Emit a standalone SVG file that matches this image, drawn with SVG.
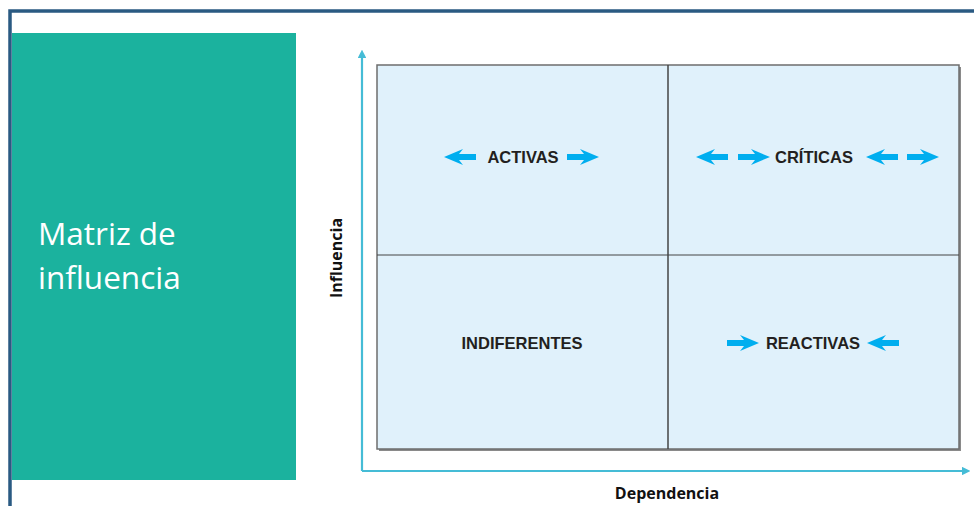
<svg xmlns="http://www.w3.org/2000/svg" width="974" height="506" viewBox="0 0 974 506">
<defs>
<style>
.lbl{font-family:"Liberation Sans",Arial,sans-serif;font-weight:bold;font-size:16.5px;fill:#231f20;text-anchor:middle}
.ax{font-family:"Open Sans","Liberation Sans",sans-serif;font-weight:bold;font-size:16px;fill:#111}
.ttl{font-family:"Open Sans","Liberation Sans",sans-serif;font-size:31.5px;fill:#ffffff}
.axis{stroke:#45bcd6;stroke-width:2.2;fill:none}
.blk{fill:#00aeef}
</style>
<path id="ar" d="M0,-3 H17 L13,-8 L32,0 L13,8 L17,3 H0 Z"/>
<marker id="ah" viewBox="0 0 10 10" refX="5" refY="5" markerWidth="4" markerHeight="4" orient="auto-start-reverse">
<path d="M0,0 L10,5 L0,10 Z" fill="#45bcd6"/>
</marker>
</defs>
<rect width="974" height="506" fill="#ffffff"/>
<g id="frame">
<path d="M10,506 V11 H974" fill="none" stroke="#2a5a82" stroke-width="3.5"/>
</g>
<g id="title">
<rect x="12" y="33" width="284" height="447" fill="#1bb29e"/>
<text class="ttl" x="38" y="245">Matriz de</text>
<text class="ttl" x="38" y="289">influencia</text>
</g>
<g id="connectors">
<path class="axis" d="M362,471 V54" marker-end="url(#ah)"/>
<path class="axis" d="M362,471 H966" marker-end="url(#ah)"/>
</g>
<g id="matrix">
<rect x="379" y="67" width="582" height="384" fill="#8a8a8a"/>
<rect x="377" y="65" width="582" height="384" fill="#e0f1fb" stroke="#6d6d6d" stroke-width="1.5"/>
<line x1="668" y1="65" x2="668" y2="449" stroke="#444" stroke-width="1.5"/>
<line x1="377" y1="255" x2="959" y2="255" stroke="#444" stroke-width="1"/>
</g>
<g id="activas">
<use href="#ar" class="blk" transform="translate(476,157) scale(-1,1)"/>
<text class="lbl" x="523" y="163">ACTIVAS</text>
<use href="#ar" class="blk" transform="translate(567,157)"/>
</g>
<g id="criticas">
<use href="#ar" class="blk" transform="translate(728,157) scale(-1,1)"/>
<use href="#ar" class="blk" transform="translate(738,157)"/>
<text class="lbl" x="814" y="163">CRÍTICAS</text>
<use href="#ar" class="blk" transform="translate(898,157) scale(-1,1)"/>
<use href="#ar" class="blk" transform="translate(907,157)"/>
</g>
<g id="indiferentes">
<text class="lbl" x="522" y="349">INDIFERENTES</text>
</g>
<g id="reactivas">
<use href="#ar" class="blk" transform="translate(727,343)"/>
<text class="lbl" x="813" y="349">REACTIVAS</text>
<use href="#ar" class="blk" transform="translate(899,343) scale(-1,1)"/>
</g>
<g id="labels">
<text class="ax" transform="translate(342,258) rotate(-90)" text-anchor="middle">Influencia</text>
<text class="ax" x="667" y="499" text-anchor="middle">Dependencia</text>
</g>
</svg>
